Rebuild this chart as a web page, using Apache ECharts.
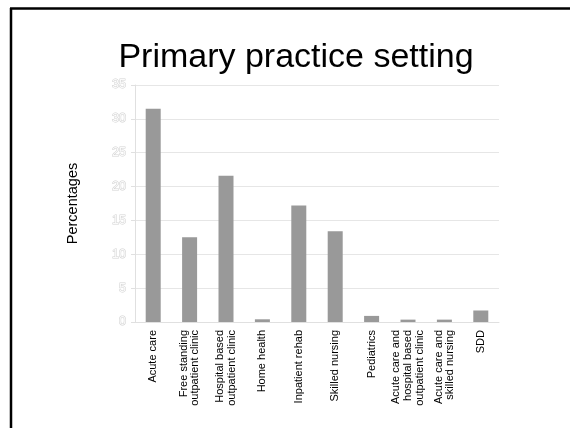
<!DOCTYPE html>
<html>
<head>
<meta charset="utf-8">
<script src="https://cdn.jsdelivr.net/npm/echarts@6/dist/echarts.min.js"></script>
<style>
html,body{margin:0;padding:0;background:#fff;}
#chart{width:570px;height:428px;}
</style>
</head>
<body>
<div id="chart"></div>
<script>
const categories = [
  "Acute care",
  "Free standing\noutpatient clinic",
  "Hospital based\noutpatient clinic",
  "Home health",
  "Inpatient rehab",
  "Skilled nursing",
  "Pediatrics",
  "Acute care and\nhospital based\noutpatient clinic",
  "Acute care and\nskilled nursing",
  "SDD"
];
const percentages = [31.5, 12.5, 21.6, 0.4, 17.2, 13.4, 0.9, 0.35, 0.35, 1.7];
const yTicks = { min: 0, max: 35, interval: 5 };
const titleText = "Primary practice setting";
const yAxisName = "Percentages";

const chart = echarts.init(document.getElementById('chart'), null, {renderer: 'canvas'});
const font = "Liberation Sans, Arial, sans-serif";
chart.setOption({
  animation: false,
  backgroundColor: '#fff',
  title: {
    text: titleText,
    left: 291,
    top: 36,
    textAlign: 'center',
    textStyle: { fontFamily: font, fontSize: 34, fontWeight: 'normal', color: '#000' }
  },
  graphic: [
    { type: 'line', shape: { x1: 10, y1: 8.5, x2: 570, y2: 8.5 }, style: { stroke: '#000', lineWidth: 2.5 } },
    { type: 'line', shape: { x1: 11, y1: 8, x2: 11, y2: 428 }, style: { stroke: '#000', lineWidth: 2.5 } }
  ],
  grid: { left: 135, right: 71, top: 85, bottom: 106, containLabel: false },
  xAxis: {
    type: 'category',
    data: categories,
    axisLine: { show: true, lineStyle: { color: '#e0e0e0', width: 1 } },
    axisTick: { show: false },
    axisLabel: {
      interval: 0,
      rotate: 90,
      margin: 8,
      fontFamily: font,
      fontSize: 11,
      lineHeight: 11.7,
      color: '#000'
    }
  },
  yAxis: {
    type: 'value',
    min: yTicks.min,
    max: yTicks.max,
    interval: yTicks.interval,
    name: yAxisName,
    nameLocation: 'middle',
    nameRotate: 90,
    nameGap: 55,
    nameTextStyle: { fontFamily: font, fontSize: 14.5, color: '#000' },
    axisLine: { show: true, lineStyle: { color: '#e0e0e0', width: 1 } },
    axisTick: { show: true, length: 4, lineStyle: { color: '#e0e0e0' } },
    splitLine: { show: true, lineStyle: { color: '#e6e6e6', width: 1 } },
    axisLabel: {
      margin: 9,
      fontFamily: font,
      fontSize: 12.5,
      color: '#fafafa',
      textBorderColor: '#d2d2d2',
      textBorderWidth: 1
    }
  },
  series: [{
    type: 'bar',
    data: percentages,
    barWidth: 15,
    itemStyle: { color: '#999999' }
  }]
});
</script>
</body>
</html>
